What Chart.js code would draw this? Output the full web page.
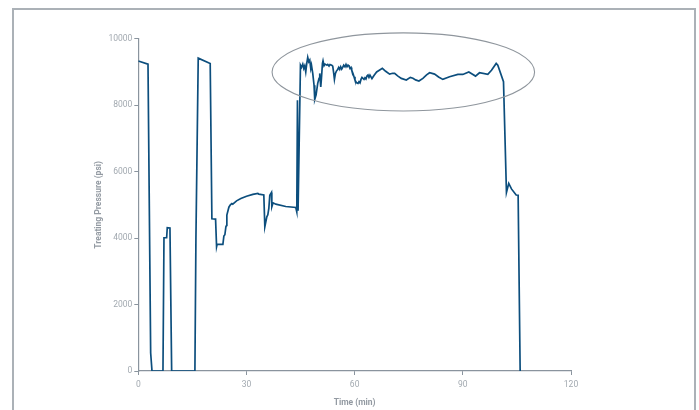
<!DOCTYPE html>
<html>
<head>
<meta charset="utf-8">
<script src="https://cdn.jsdelivr.net/npm/chart.js@4.4.1/dist/chart.umd.min.js"></script>
<style>
  html, body { margin: 0; padding: 0; background: #ffffff; }
  #wrap { position: relative; width: 699px; height: 410px; overflow: hidden; }
  #frame { position: absolute; left: 12px; top: 8px; width: 684px; height: 420px; border: 2px solid #abb1b7; box-sizing: border-box; }
  canvas { position: absolute; left: 0; top: 0; }
</style>
</head>
<body>
<div id="wrap">
  <div id="frame"></div>
  <canvas id="c" width="699" height="410"></canvas>
</div>
<script>
// Time (min)
const timeMin = [
  0, 2.69, 3.43, 3.8, 6.84, 7.12, 7.86, 8.03, 8.78, 9.25,
  15.7, 15.98, 16.62, 19.94, 20.41, 21.43, 21.71, 21.88, 23.46, 23.73,
  24.01, 24.29, 24.48, 24.56, 25.12, 25.53, 25.95, 26.2, 27.25, 28.44,
  30.02, 31.76, 33.15, 33.42, 34.81, 35.09, 35.64, 35.92, 36.2, 36.47,
  36.94, 37.03, 37.39, 38.13, 40.9, 43.67, 43.95, 44.14, 44.31, 44.97,
  45.25, 45.61, 45.89, 46.16, 46.44, 46.72, 46.99, 47.27, 47.55, 47.83,
  48.02, 48.38, 48.74, 48.93, 49.29, 49.76, 50.12, 50.32, 50.6, 50.79,
  51.07, 51.23, 51.51, 51.79, 52.26, 52.53, 52.89, 53.17, 53.64, 53.92,
  54.2, 54.39, 54.67, 54.94, 55.3, 55.58, 55.86, 56.13, 56.41, 56.69,
  56.97, 57.32, 57.6, 57.88, 58.16, 58.43, 58.71, 58.99, 59.18, 59.54,
  59.82, 60.09, 60.56, 60.92, 61.2, 61.48, 61.76, 62.03, 62.31, 62.59,
  62.86, 63.14, 63.42, 63.7, 63.97, 64.25, 64.8, 65.41, 66.1, 67.68,
  68.6, 69.7, 70.53, 71.09, 71.92, 72.94, 74.33, 75.44, 76.16, 76.9,
  77.82, 78.93, 79.95, 80.78, 82.17, 83.27, 84.46, 86.32, 88.62, 90.0,
  91.66, 92.69, 93.52, 94.63, 96.93, 97.95, 99.25, 99.7, 101.28, 102.1,
  102.74, 103.49, 104.79, 105.34, 105.9
];
// Treating Pressure (psi)
const pressurePsi = [
  9330, 9235, 540, 0, 0, 4010, 4010, 4310, 4300, 0,
  0, 3970, 9415, 9255, 4580, 4570, 3740, 3820, 3810, 4060,
  4100, 4340, 4380, 4690, 4930, 5000, 5040, 5020, 5120, 5190,
  5260, 5315, 5345, 5320, 5300, 4340, 4640, 4700, 4890, 5290,
  5375, 4940, 5060, 5020, 4950, 4920, 4790, 8150, 4820, 9200,
  9135, 9235, 9105, 9185, 9000, 9255, 9435, 9305, 9355, 9105,
  9205, 8955, 8600, 8170, 8300, 8655, 8805, 8955, 8550, 8805,
  9255, 9335, 9185, 9235, 9205, 9225, 9175, 9225, 9205, 9175,
  8955, 8775, 8955, 9025, 9075, 9135, 9075, 9155, 9085, 9135,
  9205, 9155, 9225, 9155, 9205, 9175, 9105, 9135, 9055, 8955,
  8855, 8755, 8670, 8655, 8705, 8670, 8775, 8835, 8805, 8775,
  8825, 8785, 8875, 8905, 8835, 8905, 8800, 8900, 9000, 9110,
  9020, 8935, 8960, 8955, 8880, 8805, 8755, 8835, 8810, 8760,
  8725, 8805, 8910, 8975, 8935, 8850, 8775, 8855, 8925, 8925,
  9000, 8930, 8875, 8975, 8925, 9050, 9255, 9200, 8705, 5370,
  5645, 5480, 5295, 5290, 0
];
const xTicks = [0, 30, 60, 90, 120];
const yTicks = [0, 2000, 4000, 6000, 8000, 10000];
// highlighted region (ellipse) in data units
const highlight = { cx: 73.5, cy: 9000, rx: 36.4, ry: 1174 };

const axisColor = '#8a949e';
const tickColor = '#a2a9b0';
const titleColor = '#939aa2';

const ellipsePlugin = {
  id: 'ellipse',
  afterDatasetsDraw(chart) {
    const { ctx, scales: { x, y } } = chart;
    const cx = x.getPixelForValue(highlight.cx);
    const cy = y.getPixelForValue(highlight.cy);
    const rx = Math.abs(x.getPixelForValue(highlight.cx + highlight.rx) - cx);
    const ry = Math.abs(y.getPixelForValue(highlight.cy + highlight.ry) - cy);
    ctx.save();
    ctx.beginPath();
    ctx.ellipse(cx, cy, rx, ry, 0, 0, Math.PI * 2);
    ctx.strokeStyle = '#8f969d';
    ctx.lineWidth = 1.1;
    ctx.stroke();
    ctx.restore();
  }
};

new Chart(document.getElementById('c'), {
  type: 'line',
  data: {
    datasets: [{
      data: timeMin.map((t, i) => ({ x: t, y: pressurePsi[i] })),
      borderColor: '#0c4e7d',
      borderWidth: 1.7,
      pointRadius: 0,
      tension: 0,
      fill: false
    }]
  },
  options: {
    responsive: false,
    animation: false,
    devicePixelRatio: 1,
    layout: { padding: { left: 94, right: 128, top: 38.7, bottom: 0 } },
    plugins: { legend: { display: false }, tooltip: { enabled: false } },
    scales: {
      x: {
        type: 'linear',
        min: 0, max: 120,
        afterFit: s => { s.height = 39; },
        afterBuildTicks: s => { s.ticks = xTicks.map(v => ({ value: v })); },
        grid: { drawOnChartArea: false, drawTicks: true, tickLength: 4, color: axisColor },
        border: { display: true, color: axisColor, width: 1.2 },
        ticks: { color: tickColor, font: { family: 'Roboto', size: 8.5 }, padding: 5, maxRotation: 0, callback: v => String(v) },
        title: { display: true, text: 'Time (min)', color: titleColor, font: { family: 'Roboto', size: 8.5, weight: 'bold' }, padding: { top: 0, bottom: 2 } }
      },
      y: {
        type: 'linear',
        min: 0, max: 10000,
        afterFit: s => { s.width = 44.3; },
        afterBuildTicks: s => { s.ticks = yTicks.map(v => ({ value: v })); },
        grid: { drawOnChartArea: false, drawTicks: true, tickLength: 4, color: axisColor },
        border: { display: true, color: axisColor, width: 1.2 },
        ticks: { color: tickColor, font: { family: 'Roboto', size: 8.5 }, padding: 2, callback: v => String(v) },
        title: { display: true, text: 'Treating Pressure (psi)', color: titleColor, font: { family: 'Roboto', size: 8.5, weight: 'bold' }, padding: { top: 0, bottom: 0 } }
      }
    }
  },
  plugins: [ellipsePlugin]
});
</script>
</body>
</html>
